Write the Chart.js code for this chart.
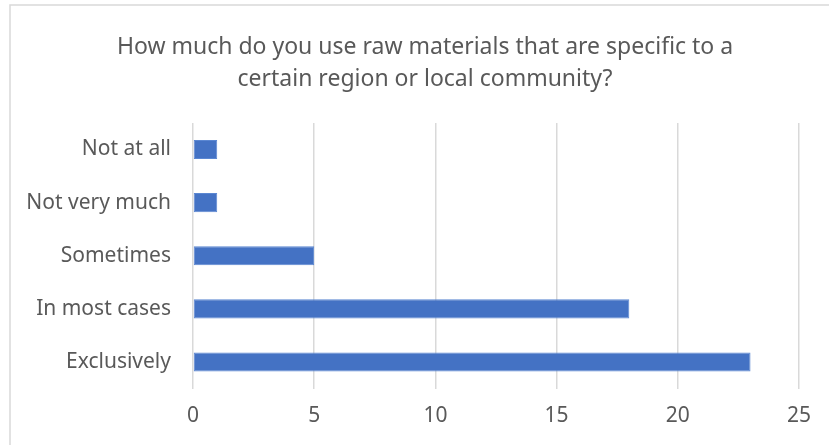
<!DOCTYPE html>
<html>
<head>
<meta charset="utf-8">
<script src="https://cdn.jsdelivr.net/npm/chart.js@4/dist/chart.umd.min.js"></script>
<style>
  html, body { margin: 0; padding: 0; background: #fff; }
  #wrap { width: 829px; height: 445px; }
</style>
</head>
<body>
<div id="wrap"><canvas id="chart" width="829" height="445"></canvas></div>
<script>
const categories = ['Not at all', 'Not very much', 'Sometimes', 'In most cases', 'Exclusively'];
const responses = [1, 1, 5, 18, 23];
const xTicks = [0, 5, 10, 15, 20, 25];
const titleLines = [
  'How much do you use raw materials that are specific to a',
  'certain region or local community?'
];

const FONT = "'Noto Sans', 'Open Sans', sans-serif";
const TEXT = '#595959';
const GRID = '#d9d9d9';

// light frame around the chart, only top and left edges fall inside the view
const framePlugin = {
  id: 'frame',
  beforeDraw(chart) {
    const ctx = chart.ctx;
    ctx.save();
    ctx.fillStyle = '#fff';
    ctx.fillRect(0, 0, chart.width, chart.height);
    ctx.strokeStyle = GRID;
    ctx.lineWidth = 1.5;
    ctx.strokeRect(10, 5, 900, 600);
    ctx.restore();
  }
};

// centre the title a little right of the canvas middle
const titleShift = {
  id: 'titleShift',
  afterLayout(chart) {
    const tb = chart.titleBlock;
    if (tb) {
      tb.left = 51;
      tb.right = 799;
    }
  }
};

new Chart(document.getElementById('chart').getContext('2d'), {
  type: 'bar',
  data: {
    labels: categories,
    datasets: [{
      data: responses,
      backgroundColor: '#4472C4',
      borderColor: '#5B87D2',
      borderWidth: 1,
      borderSkipped: false,
      barPercentage: 0.36,
      categoryPercentage: 1
    }]
  },
  options: {
    indexAxis: 'y',
    responsive: false,
    animation: false,
    layout: {
      padding: { top: 0, left: 0, right: 30, bottom: 0 }
    },
    plugins: {
      legend: { display: false },
      tooltip: { enabled: false },
      title: {
        display: true,
        text: titleLines,
        color: TEXT,
        font: { family: FONT, size: 23, weight: 'normal', lineHeight: 1.39 },
        padding: { top: 31, bottom: 28 }
      }
    },
    scales: {
      x: {
        min: 0,
        max: 25,
        afterBuildTicks(scale) {
          scale.ticks = xTicks.map(v => ({ value: v }));
        },
        afterFit(scale) {
          scale.height = 56.5;
        },
        grid: {
          color: GRID,
          lineWidth: 1.5,
          drawTicks: false
        },
        border: { display: false },
        ticks: {
          color: TEXT,
          font: { family: FONT, size: 21 },
          padding: 15
        }
      },
      y: {
        afterFit(scale) {
          scale.width = 193;
        },
        grid: { display: false, drawTicks: false },
        border: { display: false },
        ticks: {
          color: TEXT,
          font: { family: FONT, size: 21 },
          padding: 22
        }
      }
    }
  },
  plugins: [framePlugin, titleShift]
});
</script>
</body>
</html>
